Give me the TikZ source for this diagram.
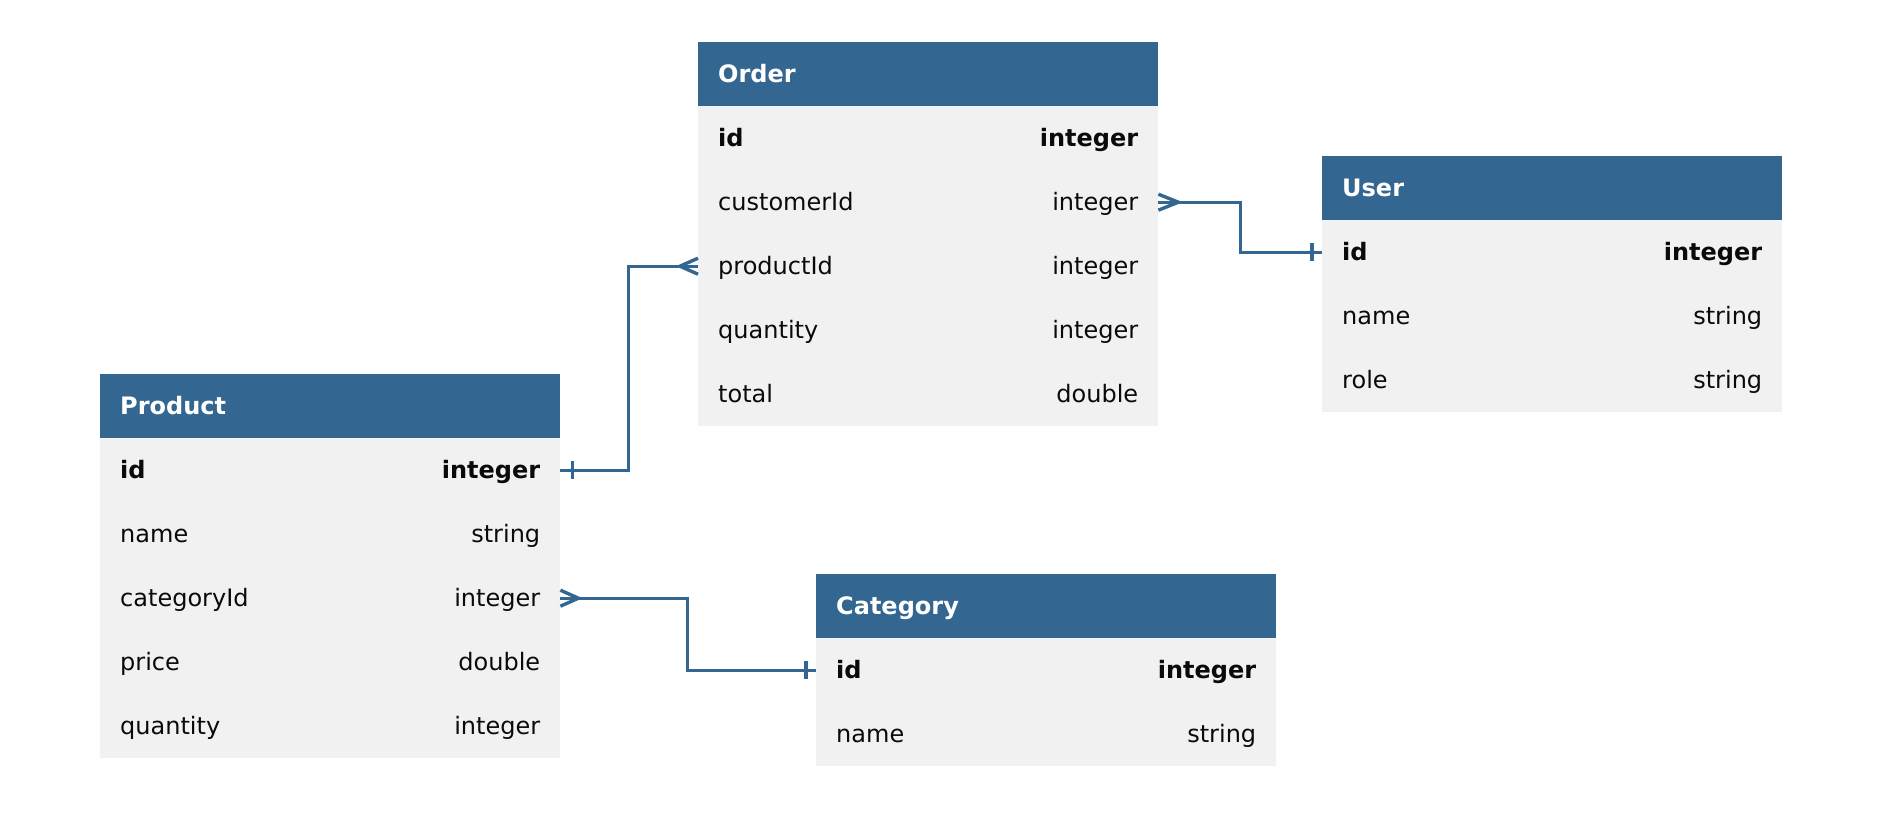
\documentclass[tikz,border=0pt]{standalone}
\usepackage{fontspec}
\setmainfont{DejaVu Sans}
\usetikzlibrary{calc}
\definecolor{hdrblue}{HTML}{336791}
\definecolor{rowgray}{HTML}{F1F1F1}
\definecolor{txtdark}{HTML}{0A0A0A}
\tikzset{
  hdr/.style={rectangle, anchor=north west, minimum width=460pt, minimum height=64pt, inner sep=0pt, fill=hdrblue},
  rowbox/.style={rectangle, anchor=north west, minimum width=460pt, minimum height=64pt, inner sep=0pt, fill=rowgray},
  hdrtext/.style={anchor=base west, inner sep=0pt, text=white, font=\fontsize{24}{28}\selectfont\bfseries},
  lefttext/.style={anchor=base west, inner sep=0pt, text=txtdark, font=\fontsize{24}{28}\selectfont},
  righttext/.style={anchor=base east, inner sep=0pt, text=txtdark, font=\fontsize{24}{28}\selectfont},
  conn/.style={draw=hdrblue, line width=3.4pt},
}
\newcommand{\ertable}[5]{%
  \node[hdr] (#1) at (#2,#3) {};
  \node[hdrtext] at ([xshift=20pt,yshift=-8.5pt]#1.west) {#4};
  \foreach \n/\l/\r [count=\i] in {#5} {
    \node[rowbox] (#1-\n) at (#2,#3+64*\i) {};
    \node[lefttext] at ([xshift=20pt,yshift=-8.5pt]#1-\n.west) {\ifnum\i=1 \bfseries\fi\l};
    \node[righttext] at ([xshift=-20pt,yshift=-8.5pt]#1-\n.east) {\ifnum\i=1 \bfseries\fi\r};
  }%
}
\begin{document}
\begin{tikzpicture}[x=1pt,y=-1pt]
\fill[white] (0,0) rectangle (1882,827);
\useasboundingbox (0,0) rectangle (1882,827);

\ertable{order}{698}{42}{Order}{id/id/integer, customerId/customerId/integer, productId/productId/integer, quantity/quantity/integer, total/total/double}
\ertable{user}{1322}{156}{User}{id/id/integer, name/name/string, role/role/string}
\ertable{product}{100}{374}{Product}{id/id/integer, name/name/string, categoryId/categoryId/integer, price/price/double, quantity/quantity/integer}
\ertable{category}{816}{574}{Category}{id/id/integer, name/name/string}

% Order.customerId >- User.id
\draw[conn] (order-customerId.east) -- ++(82,0) |- (user-id.west);
\draw[conn] ([yshift=8pt]order-customerId.east) -- ([xshift=20pt]order-customerId.east) -- ([yshift=-8pt]order-customerId.east);
\draw[conn] ([xshift=-10pt,yshift=9pt]user-id.west) -- ([xshift=-10pt,yshift=-9pt]user-id.west);

% Product.id -< Order.productId
\draw[conn] (product-id.east) -- ++(68,0) |- (order-productId.west);
\draw[conn] ([yshift=8pt]order-productId.west) -- ([xshift=-18pt]order-productId.west) -- ([yshift=-8pt]order-productId.west);
\draw[conn] ([xshift=12pt,yshift=9pt]product-id.east) -- ([xshift=12pt,yshift=-9pt]product-id.east);

% Product.categoryId >- Category.id
\draw[conn] (product-categoryId.east) -- ++(127,0) |- (category-id.west);
\draw[conn] ([yshift=8pt]product-categoryId.east) -- ([xshift=18pt]product-categoryId.east) -- ([yshift=-8pt]product-categoryId.east);
\draw[conn] ([xshift=-10pt,yshift=9pt]category-id.west) -- ([xshift=-10pt,yshift=-9pt]category-id.west);
\end{tikzpicture}
\end{document}
